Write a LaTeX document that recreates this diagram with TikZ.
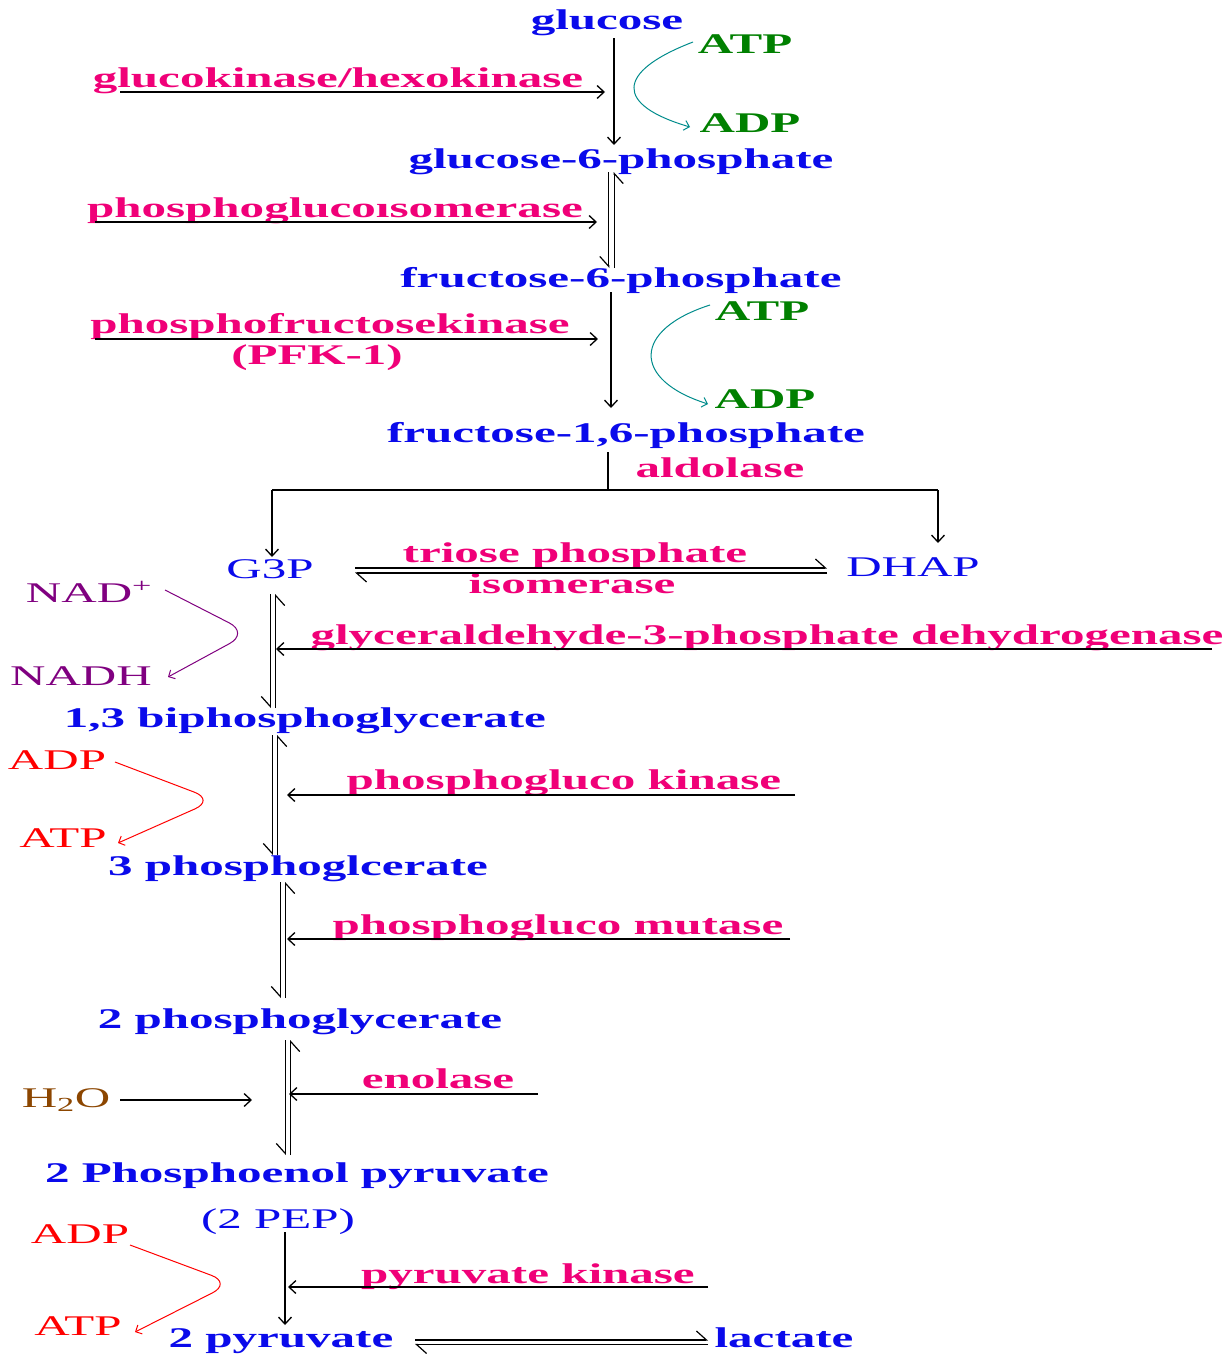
\documentclass[tikz,border=0pt]{standalone}
\usepackage{fontspec}
\setmainfont{Liberation Serif}[FakeStretch=1.72]
\usetikzlibrary{arrows.meta,calc}
\definecolor{cblue}{RGB}{10,10,235}
\definecolor{cpink}{RGB}{240,0,120}
\definecolor{cgreen}{RGB}{0,128,0}
\definecolor{cteal}{RGB}{0,140,140}
\definecolor{cpurple}{RGB}{128,0,128}
\definecolor{cred}{RGB}{255,0,0}
\definecolor{cbrown}{RGB}{140,70,0}
\tikzset{
  lbl/.style={inner sep=0pt, outer sep=0pt, anchor=base, font=\fontsize{28.5}{30}\selectfont},
  met/.style={lbl, text=cblue, font=\fontsize{28.5}{30}\selectfont\bfseries},
  metr/.style={lbl, text=cblue},
  enz/.style={lbl, text=cpink, font=\fontsize{28.5}{30}\selectfont\bfseries},
  grn/.style={lbl, text=cgreen, font=\fontsize{28.5}{30}\selectfont\bfseries},
  fwd/.style={line width=1.3pt, -{Straight Barb[length=7pt,width=13pt]}},
  plain/.style={line width=1.3pt},
  halfl/.style={line width=1.2pt, -{Straight Barb[harpoon,length=10pt,width=18pt]}},
  halfr/.style={line width=1.2pt, -{Straight Barb[harpoon,swap,length=10pt,width=18pt]}},
  cof/.style={line width=1pt, -{Straight Barb[length=5pt,width=10pt]}},
}
\begin{document}
\begin{tikzpicture}[x=1pt,y=-1pt]
\useasboundingbox[fill=white] (0,0) rectangle (1225,1358);

% ---------- nodes ----------
\node[met] (glc) at (607,29) {glucose};
\node[grn] (atp1) at (745,53) {ATP};
\node[grn] (adp1) at (750,132) {ADP};
\node[enz] (gk) at (338,87) {glucokinase/hexokinase};
\node[met] (g6p) at (621,168) {glucose-6-phosphate};
\node[enz] (pgi) at (335,217) {phosphogluco\i somerase};
\node[met] (f6p) at (621,287) {fructose-6-phosphate};
\node[grn] (atp2) at (762,320) {ATP};
\node[enz] (pfk) at (330,333) {phosphofructosekinase};
\node[enz] (pfk1) at (317,364) {(PFK-1)};
\node[grn] (adp2) at (765,408) {ADP};
\node[met] (f16) at (626,442) {fructose-1,6-phosphate};
\node[enz] (ald) at (720,477) {aldolase};
\node[metr] (g3p) at (270,578) {G3P};
\node[metr] (dhap) at (913,576) {DHAP};
\node[enz] (tpi1) at (575,562) {triose phosphate};
\node[enz] (tpi2) at (572,593) {isomerase};
\node[lbl, text=cpurple] (nad) at (89,602) {NAD\textsuperscript{+}};
\node[enz] (gapdh) at (767,644) {glyceraldehyde-3-phosphate dehydrogenase};
\node[lbl, text=cpurple] (nadh) at (81,685) {NADH};
\node[met] (bpg) at (305,727) {1,3 biphosphoglycerate};
\node[lbl, text=cred] (adp3) at (57,769) {ADP};
\node[enz] (pgk) at (564,789) {phosphogluco kinase};
\node[lbl, text=cred] (atp3) at (63,847) {ATP};
\node[met] (pg3) at (298,875) {3 phosphoglcerate};
\node[enz] (pgm) at (558,934) {phosphogluco mutase};
\node[met] (pg2) at (300,1028) {2 phosphoglycerate};
\node[lbl, text=cbrown] (h2o) at (66,1107) {H\textsubscript{2}O};
\node[enz] (eno) at (438,1088) {enolase};
\node[met] (pep) at (297,1182) {2 Phosphoenol pyruvate};
\node[metr] (pep2) at (278,1228) {(2 PEP)};
\node[lbl, text=cred] (adp4) at (80,1243) {ADP};
\node[enz] (pk) at (528,1283) {pyruvate kinase};
\node[lbl, text=cred] (atp4) at (78,1335) {ATP};
\node[met] (pyr) at (281,1347) {2 pyruvate};
\node[met] (lac) at (784,1347) {lactate};

% ---------- connector end points ----------
\coordinate (a1s) at (614,38);   \coordinate (a1e) at (614,145);
\coordinate (a2t) at (611.5,172); \coordinate (a2b) at (611.5,268);
\coordinate (a3s) at (611,292);  \coordinate (a3e) at (611,408);
\coordinate (spl) at (608,452);  \coordinate (spm) at (608,490);
\coordinate (spL) at (272,490);  \coordinate (spR) at (938,490);
\coordinate (g3pin) at (272,557); \coordinate (dhapin) at (938,543);
\coordinate (b1t) at (273,594);  \coordinate (b1b) at (273,708);
\coordinate (b2t) at (275,735);  \coordinate (b2b) at (275,855);
\coordinate (b3t) at (283,882);  \coordinate (b3b) at (283,998);
\coordinate (b4t) at (288,1040); \coordinate (b4b) at (288,1155);
\coordinate (b5s) at (285,1232); \coordinate (b5e) at (285,1325);
% enzyme arrows
\coordinate (e1s) at (120,92);   \coordinate (e1e) at (605,92);
\coordinate (e2s) at (95,222);   \coordinate (e2e) at (597,222);
\coordinate (e3s) at (95,339);   \coordinate (e3e) at (598,339);
\coordinate (e4s) at (1212,649); \coordinate (e4e) at (276,649);
\coordinate (e5s) at (795,795);  \coordinate (e5e) at (287,795);
\coordinate (e6s) at (790,939);  \coordinate (e6e) at (287,939);
\coordinate (e7s) at (538,1094); \coordinate (e7e) at (289,1094);
\coordinate (e8s) at (708,1287); \coordinate (e8e) at (288,1287);
\coordinate (w1s) at (120,1100); \coordinate (w1e) at (252,1100);
% cofactor bends
\coordinate (k1) at (249,633);
\coordinate (k2) at (215,800);
\coordinate (k3) at (232,1283);

% ---------- main pathway ----------
\draw[fwd] (a1s) -- (a1e);
\draw[halfr] ($(a2t)+(-2.7,0)$) -- ($(a2b)+(-2.7,0)$);
\draw[halfr] ($(a2b)+(2.7,0)$) -- ($(a2t)+(2.7,0)$);
\draw[fwd] (a3s) -- (a3e);
\draw[plain] (spl) -- (spm);
\draw[plain] (spL) -- (spR);
\draw[fwd] (spL) -- (g3pin);
\draw[fwd] (spR) -- (dhapin);
% triose phosphate isomerase
\draw[halfl] (355,568) -- (827,568);
\draw[halfl] (827,573) -- (355,573);
\foreach \t/\b in {b1t/b1b,b2t/b2b,b3t/b3b,b4t/b4b}{
  \draw[halfr] ($(\t)+(-2.7,0)$) -- ($(\b)+(-2.7,0)$);
  \draw[halfr] ($(\b)+(2.7,0)$) -- ($(\t)+(2.7,0)$);
}
\draw[fwd] (b5s) -- (b5e);
% pyruvate <-> lactate
\draw[halfl] (415,1340) -- (708,1340);
\draw[halfl] (708,1344.5) -- (415,1344.5);

% ---------- enzyme arrows ----------
\draw[fwd] (e1s) -- (e1e);
\draw[fwd] (e2s) -- (e2e);
\draw[fwd] (e3s) -- (e3e);
\draw[fwd] (e4s) -- (e4e);
\draw[fwd] (e5s) -- (e5e);
\draw[fwd] (e6s) -- (e6e);
\draw[fwd] (e7s) -- (e7e);
\draw[fwd] (e8s) -- (e8e);
\draw[fwd] (w1s) -- (w1e);

% ---------- cofactors ----------
\draw[cof, cteal] (693,42) .. controls (615,72) and (615,105) .. (690,127);
\draw[cof, cteal] (710,305) .. controls (632,330) and (632,380) .. (708,404);
\draw[cof, cpurple, rounded corners=22pt] (165,590) -- (k1) -- (168,677);
\draw[cof, cred, rounded corners=22pt] (115,762) -- (k2) -- (118,843);
\draw[cof, cred, rounded corners=22pt] (130,1245) -- (k3) -- (135,1332);
\end{tikzpicture}
\end{document}
